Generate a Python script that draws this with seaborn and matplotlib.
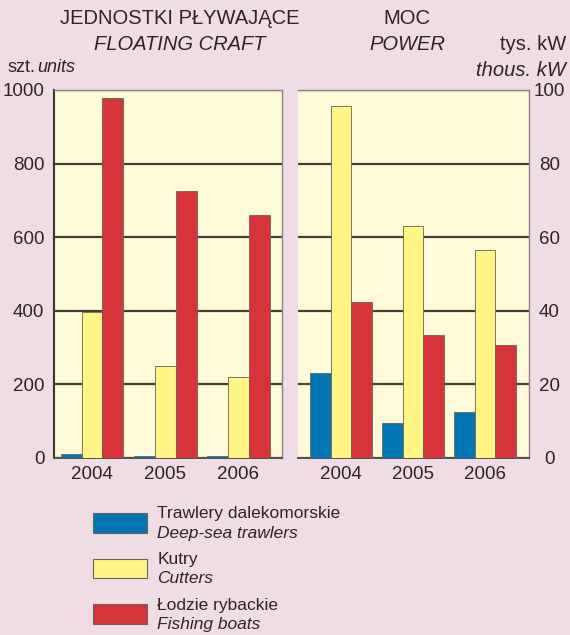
import pandas as pd
import matplotlib.pyplot as plt
import seaborn as sns
from matplotlib.legend_handler import HandlerPatch

years = ['2004', '2005', '2006']
kinds_pl = ['Trawlery dalekomorskie', 'Kutry', 'Łodzie rybackie']
kinds_en = ['Deep-sea trawlers', 'Cutters', 'Fishing boats']
units_trawlers = [12, 6, 6]
units_cutters = [397, 249, 220]
units_boats = [978, 725, 659]
power_trawlers = [23.0, 9.5, 12.6]
power_cutters = [95.6, 63.0, 56.6]
power_boats = [42.3, 33.5, 30.8]

colors = ['#0077B2', '#FFF585', '#D6333B']
bg = '#EFDCE5'
face = '#FFFBD8'
ink = '#2b2622'

def long_table(a, b, c):
    rows = []
    for kind, vals in zip(kinds_pl, [a, b, c]):
        for y, v in zip(years, vals):
            rows.append({'year': y, 'kind': kind, 'value': v})
    return pd.DataFrame(rows)

units = long_table(units_trawlers, units_cutters, units_boats)
power = long_table(power_trawlers, power_cutters, power_boats)

sns.set_style('white')
plt.rcParams['font.family'] = ['Liberation Sans', 'DejaVu Sans']

fig = plt.figure(figsize=(5.7, 6.35), dpi=100, facecolor=bg)
ax1 = fig.add_axes([54 / 570, 1 - 458 / 635, 228 / 570, 368 / 635])
ax2 = fig.add_axes([298 / 570, 1 - 458 / 635, 231 / 570, 368 / 635])

for ax, df, top, step in [(ax1, units, 1000, 200), (ax2, power, 100, 20)]:
    ax.set_facecolor(face)
    sns.barplot(data=df, x='year', y='value', hue='kind', palette=colors,
                width=0.86, ax=ax, legend=False, saturation=1,
                edgecolor='#6a6158', linewidth=0.6, zorder=3)
    ax.set_ylim(0, top)
    ax.set_yticks(range(0, top + 1, step))
    ax.grid(axis='y', color='#45403a', lw=1.6, zorder=1)
    ax.grid(axis='x', visible=False)
    ax.set_xlabel('')
    ax.set_ylabel('')
    ax.tick_params(length=0, labelsize=13.5, colors=ink, pad=6)
    for s in ax.spines.values():
        s.set_color('#8a8580')
        s.set_linewidth(1)
    ax.spines['bottom'].set_color('#55504a')
    ax.spines['bottom'].set_linewidth(1.4)

ax1.set_xlim(-0.52, 2.6)
ax2.set_xlim(-0.6, 2.61)
ax1.spines['left'].set_color('#3a3532')
ax1.spines['left'].set_linewidth(1.5)
ax2.spines['left'].set_visible(False)
ax2.yaxis.tick_right()
for lab in ax2.get_yticklabels():
    lab.set_horizontalalignment('center')
ax2.tick_params(axis='y', pad=14.5)
ax1.tick_params(axis='y', pad=7)

fig.text(180 / 570, 1 - 18 / 635, 'JEDNOSTKI PŁYWAJĄCE', ha='center', va='center', fontsize=14.5, color=ink)
fig.text(180 / 570, 1 - 45 / 635, 'FLOATING CRAFT', ha='center', va='center', fontsize=14.5, style='italic', color=ink)
fig.text(8 / 570, 1 - 68 / 635, 'szt.', ha='left', va='center', fontsize=13, color=ink)
fig.text(37 / 570, 1 - 68 / 635, 'units', ha='left', va='center', fontsize=13, style='italic', color=ink)
fig.text(407 / 570, 1 - 18 / 635, 'MOC', ha='center', va='center', fontsize=14.5, color=ink)
fig.text(407 / 570, 1 - 45 / 635, 'POWER', ha='center', va='center', fontsize=14.5, style='italic', color=ink)
fig.text(566 / 570, 1 - 45 / 635, 'tys. kW', ha='right', va='center', fontsize=14.5, color=ink)
fig.text(566 / 570, 1 - 70 / 635, 'thous. kW', ha='right', va='center', fontsize=14.5, style='italic', color=ink)


# legend: Polish name in the legend, English name under it; patch sits between the two lines
def low_patch(legend, orig_handle, xdescent, ydescent, width, height, fontsize):
    return plt.Rectangle((-xdescent, -ydescent - 0.6 * fontsize), width, height)


handles = [plt.Rectangle((0, 0), 1, 1, facecolor=c, edgecolor='#6a6158', lw=0.8) for c in colors]
leg = fig.legend(handles, kinds_pl, loc='upper left',
                 bbox_to_anchor=(86 / 570, 1 - 496 / 635), frameon=False,
                 fontsize=12.5, handlelength=3.1, handleheight=1.35,
                 handletextpad=0.6, labelspacing=1.5, borderaxespad=0,
                 handler_map={plt.Rectangle: HandlerPatch(patch_func=low_patch)})
for t, en in zip(leg.get_texts(), kinds_en):
    t.set_color(ink)
    fig.add_artist(plt.Annotation(en, xy=(0, 0), xycoords=t, va='top', ha='left',
                                  xytext=(0, -3), textcoords='offset points',
                                  fontsize=12.5, style='italic', color=ink, zorder=10))

fig.savefig('out.png', dpi=100, facecolor=bg)
